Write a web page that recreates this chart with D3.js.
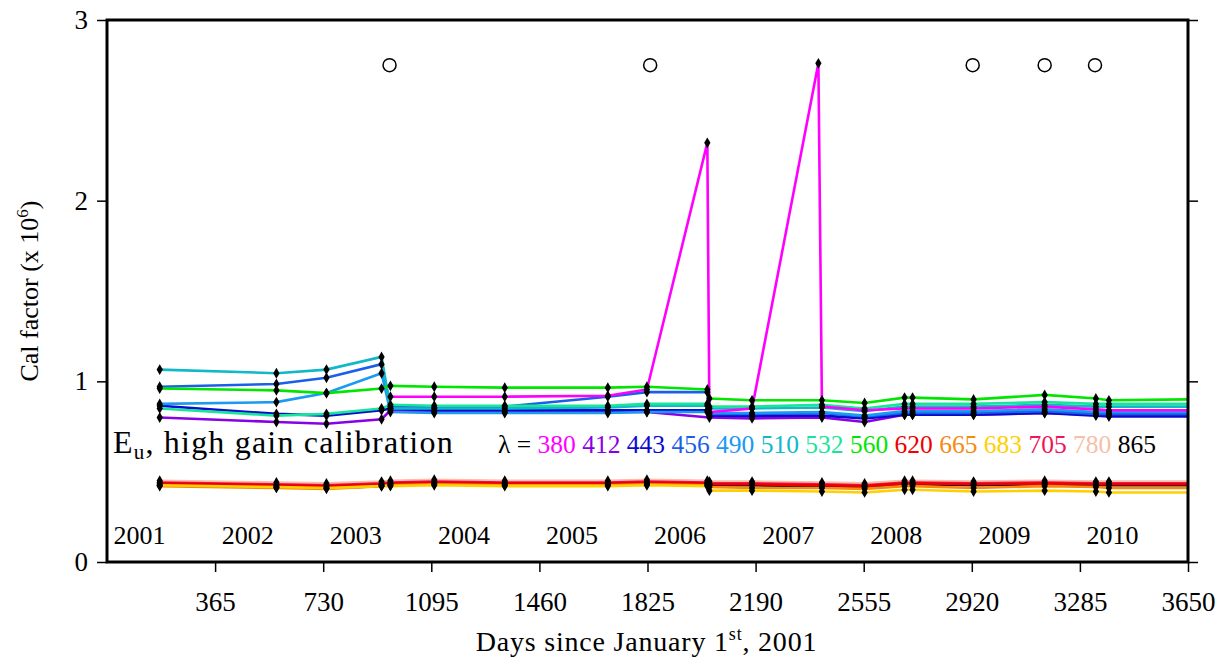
<!DOCTYPE html>
<html>
  <head>
    <title>Cal factor, high gain calibration</title>
    <script src="https://d3js.org/d3.v7.min.js"></script>
    <style>
      body { margin: 0; background: #fff; }
      svg text { font-family: "Liberation Serif", "DejaVu Serif", serif; fill: #000; }
      .axis line { stroke: #000; stroke-width: 1.5px; }
    </style>
  </head>
  <body>
    <div id="chart"></div>
    <script>
      // Sample days (days since Jan 1st, 2001)
      const days = [178, 572, 741, 927, 957, 1105, 1343, 1691, 1823, 2027, 2034, 2178, 2402, 2414, 2558, 2693, 2720, 2926, 3166, 3339, 3383, 3650];

      // Cal factor (x 10^6) per band
      const w380 = [null, null, null, null, 0.915, 0.915, 0.915, 0.92, 0.955, 2.32, 0.83, 0.85, 2.76, 0.86, 0.84, 0.85, 0.85, 0.85, 0.86, 0.845, 0.84, 0.84];
      const w412 = [0.80, 0.775, 0.765, 0.79, 0.84, 0.83, 0.83, 0.83, 0.83, null, 0.80, 0.795, null, 0.80, 0.775, 0.815, 0.815, 0.815, 0.825, 0.815, 0.815, 0.815];
      const w443 = [0.865, 0.82, 0.81, 0.84, 0.85, 0.84, 0.84, 0.84, 0.84, 0.84, 0.81, 0.81, null, 0.81, 0.795, 0.815, 0.815, 0.815, 0.825, 0.81, 0.805, 0.805];
      const w456 = [0.97, 0.985, 1.02, 1.095, 0.86, 0.855, 0.86, 0.915, 0.94, 0.94, 0.82, 0.82, null, 0.825, 0.805, 0.825, 0.825, 0.825, 0.835, 0.82, 0.82, 0.82];
      const w490 = [0.875, 0.885, 0.935, 1.045, 0.83, 0.825, 0.825, 0.825, 0.83, 0.83, 0.825, 0.825, null, 0.83, 0.81, 0.835, 0.835, 0.835, 0.845, 0.83, 0.83, 0.83];
      const w510 = [1.065, 1.045, 1.065, 1.135, 0.85, 0.85, 0.85, 0.855, 0.865, 0.865, 0.85, 0.85, null, 0.855, 0.835, 0.86, 0.86, 0.86, 0.87, 0.86, 0.86, 0.86];
      const w532 = [0.85, 0.81, 0.82, 0.85, 0.87, 0.865, 0.865, 0.865, 0.875, 0.875, 0.86, 0.86, null, 0.87, 0.85, 0.875, 0.875, 0.875, 0.885, 0.875, 0.875, 0.875];
      const w560 = [0.96, 0.95, 0.935, 0.96, 0.975, 0.97, 0.965, 0.965, 0.97, 0.955, 0.905, 0.895, null, 0.895, 0.88, 0.91, 0.91, 0.90, 0.925, 0.905, 0.895, 0.90];
      const w620 = [0.435, 0.425, 0.42, 0.43, 0.435, 0.44, 0.435, 0.435, 0.44, 0.435, 0.43, 0.43, null, 0.425, 0.42, 0.435, 0.435, 0.43, 0.435, 0.43, 0.43, 0.43];
      const w665 = [0.42, 0.41, 0.405, 0.42, 0.425, 0.43, 0.425, 0.425, 0.43, 0.425, 0.415, 0.41, null, 0.41, 0.405, 0.42, 0.42, 0.41, 0.42, 0.415, 0.41, 0.41];
      const w683 = [0.425, 0.415, 0.41, 0.42, 0.42, 0.425, 0.42, 0.42, 0.425, 0.42, 0.395, 0.395, null, 0.39, 0.385, 0.40, 0.40, 0.39, 0.395, 0.39, 0.385, 0.385];
      const w705 = [0.44, 0.43, 0.425, 0.435, 0.44, 0.445, 0.44, 0.44, 0.445, 0.44, 0.435, 0.435, null, 0.43, 0.425, 0.44, 0.44, 0.435, 0.44, 0.435, 0.435, 0.435];
      const w780 = [0.45, 0.44, 0.435, 0.445, 0.45, 0.455, 0.45, 0.45, 0.455, 0.45, 0.445, 0.445, null, 0.44, 0.435, 0.45, 0.45, 0.445, 0.45, 0.445, 0.445, 0.445];
      const w865 = [0.425, 0.415, 0.41, 0.42, 0.43, 0.435, 0.43, 0.43, 0.435, 0.43, 0.425, 0.425, null, 0.42, 0.415, 0.43, 0.43, 0.425, 0.43, 0.425, 0.425, 0.425];

      const bands = ["380", "412", "443", "456", "490", "510", "532", "560", "620", "665", "683", "705", "780", "865"];
      const colors = ["#ff00ff", "#8a00e6", "#0a0acf", "#1a5fe8", "#1a9af0", "#10b8c8", "#19e59a", "#00e600",
                      "#ee0000", "#f58a10", "#ffd000", "#f0145a", "#f6bfa8", "#000000"];

      // Open circles along the top
      const circleDays = [954, 1834, 2923, 3166, 3336];
      const circleValue = 2.75;

      // Year labels inside the plot
      const years = ["2001", "2002", "2003", "2004", "2005", "2006", "2007", "2008", "2009", "2010"];
      const xTicks = [365, 730, 1095, 1460, 1825, 2190, 2555, 2920, 3285, 3650];
      const yTicks = [0, 1, 2, 3];

      const series = [
        { band: "865", values: w865 },
        { band: "780", values: w780 },
        { band: "705", values: w705 },
        { band: "620", values: w620 },
        { band: "665", values: w665 },
        { band: "683", values: w683 },
        { band: "412", values: w412 },
        { band: "443", values: w443 },
        { band: "456", values: w456 },
        { band: "490", values: w490 },
        { band: "510", values: w510 },
        { band: "532", values: w532 },
        { band: "560", values: w560 },
        { band: "380", values: w380 }
      ];
      const color = d3.scaleOrdinal().domain(bands).range(colors);

      const margin = { top: 20, right: 39, bottom: 104, left: 107 };
      const width = 1227 - margin.left - margin.right;
      const height = 666 - margin.top - margin.bottom;

      const svg = d3
        .select("#chart")
        .append("svg")
        .attr("width", 1227)
        .attr("height", 666)
        .append("g")
        .attr("transform", `translate(${margin.left}, ${margin.top})`);

      const x = d3.scaleLinear().domain([0, 3650]).range([0, width]);
      const y = d3.scaleLinear().domain([0, 3]).range([height, 0]);

      // Axes
      svg
        .append("g")
        .attr("class", "axis")
        .attr("transform", `translate(0, ${height})`)
        .call(d3.axisBottom(x).tickValues(xTicks).tickFormat(d3.format("d")).tickSize(10).tickSizeOuter(0).tickPadding(20))
        .call((g) => g.select(".domain").remove())
        .attr("font-family", null)
        .attr("font-size", 27);

      svg
        .append("g")
        .attr("class", "axis")
        .call(d3.axisLeft(y).tickValues(yTicks).tickFormat(d3.format("d")).tickSize(10).tickSizeOuter(0).tickPadding(9))
        .call((g) => g.select(".domain").remove())
        .attr("font-family", null)
        .attr("font-size", 27);

      svg
        .append("g")
        .attr("class", "axis")
        .attr("transform", `translate(${width}, 0)`)
        .call(d3.axisRight(y).tickValues(yTicks).tickSize(10).tickSizeOuter(0).tickFormat(""))
        .call((g) => g.select(".domain").remove());

      // Lines (missing samples are skipped, not broken)
      const line = d3
        .line()
        .x((d) => x(d.day))
        .y((d) => y(d.v));

      series.forEach((s) => {
        const pts = days
          .map((day, i) => ({ day: day, v: s.values[i] }))
          .filter((d) => d.v != null);
        svg
          .append("path")
          .datum(pts)
          .attr("fill", "none")
          .attr("stroke", color(s.band))
          .attr("stroke-width", 2.6)
          .attr("d", line);
      });

      // Diamond markers (not at the right edge)
      const diamond = d3.symbol().type(d3.symbolDiamond).size(34);
      series.forEach((s) => {
        const pts = days
          .map((day, i) => ({ day: day, v: s.values[i] }))
          .filter((d) => d.v != null && d.day < 3650);
        svg
          .append("g")
          .selectAll("path")
          .data(pts)
          .enter()
          .append("path")
          .attr("d", diamond)
          .attr("transform", (d) => `translate(${x(d.day)}, ${y(d.v)})`)
          .attr("fill", "#000");
      });

      // Open circles
      svg
        .append("g")
        .selectAll("circle")
        .data(circleDays)
        .enter()
        .append("circle")
        .attr("cx", (d) => x(d))
        .attr("cy", y(circleValue))
        .attr("r", 6.5)
        .attr("fill", "none")
        .attr("stroke", "#000")
        .attr("stroke-width", 1.5);

      // Year labels
      svg
        .append("g")
        .selectAll("text")
        .data(years)
        .enter()
        .append("text")
        .attr("x", (d, i) => x(365 * i + 110))
        .attr("y", height - 18)
        .attr("text-anchor", "middle")
        .style("font-size", "26px")
        .text((d) => d);

      // Frame
      svg
        .append("rect")
        .attr("width", width)
        .attr("height", height)
        .attr("fill", "none")
        .attr("stroke", "#000")
        .attr("stroke-width", 3);

      // Legend text
      const t1 = svg
        .append("text")
        .attr("x", 6)
        .attr("y", 433)
        .style("font-size", "32px")
        .style("letter-spacing", "1.2px");
      t1.append("tspan").text("E");
      t1.append("tspan").attr("dy", 6).style("font-size", "21px").text("u");
      t1.append("tspan").attr("dy", -6).text(", high gain calibration");

      const t2 = svg
        .append("text")
        .attr("x", 391)
        .attr("y", 433)
        .style("font-size", "25.5px");
      t2.append("tspan").text("\u03bb = ");
      bands.forEach((b, i) => {
        t2.append("tspan")
          .style("fill", color(b))
          .text(b + (i < bands.length - 1 ? " " : ""));
      });

      // Y-axis label
      const yl = svg
        .append("text")
        .attr("transform", `translate(${-69}, ${height / 2}) rotate(-90)`)
        .attr("text-anchor", "middle")
        .style("font-size", "26px");
      yl.append("tspan").text("Cal factor (x 10");
      yl.append("tspan").attr("dy", -10).style("font-size", "17px").text("6");
      yl.append("tspan").attr("dy", 10).text(")");

      // X-axis label
      const xl = svg
        .append("text")
        .attr("x", width / 2 - 1)
        .attr("y", height + 89)
        .attr("text-anchor", "middle")
        .style("font-size", "28px")
        .style("letter-spacing", "0.8px");
      xl.append("tspan").text("Days since January 1");
      xl.append("tspan").attr("dy", -11).style("font-size", "18px").text("st");
      xl.append("tspan").attr("dy", 11).text(", 2001");
    </script>
  </body>
</html>
